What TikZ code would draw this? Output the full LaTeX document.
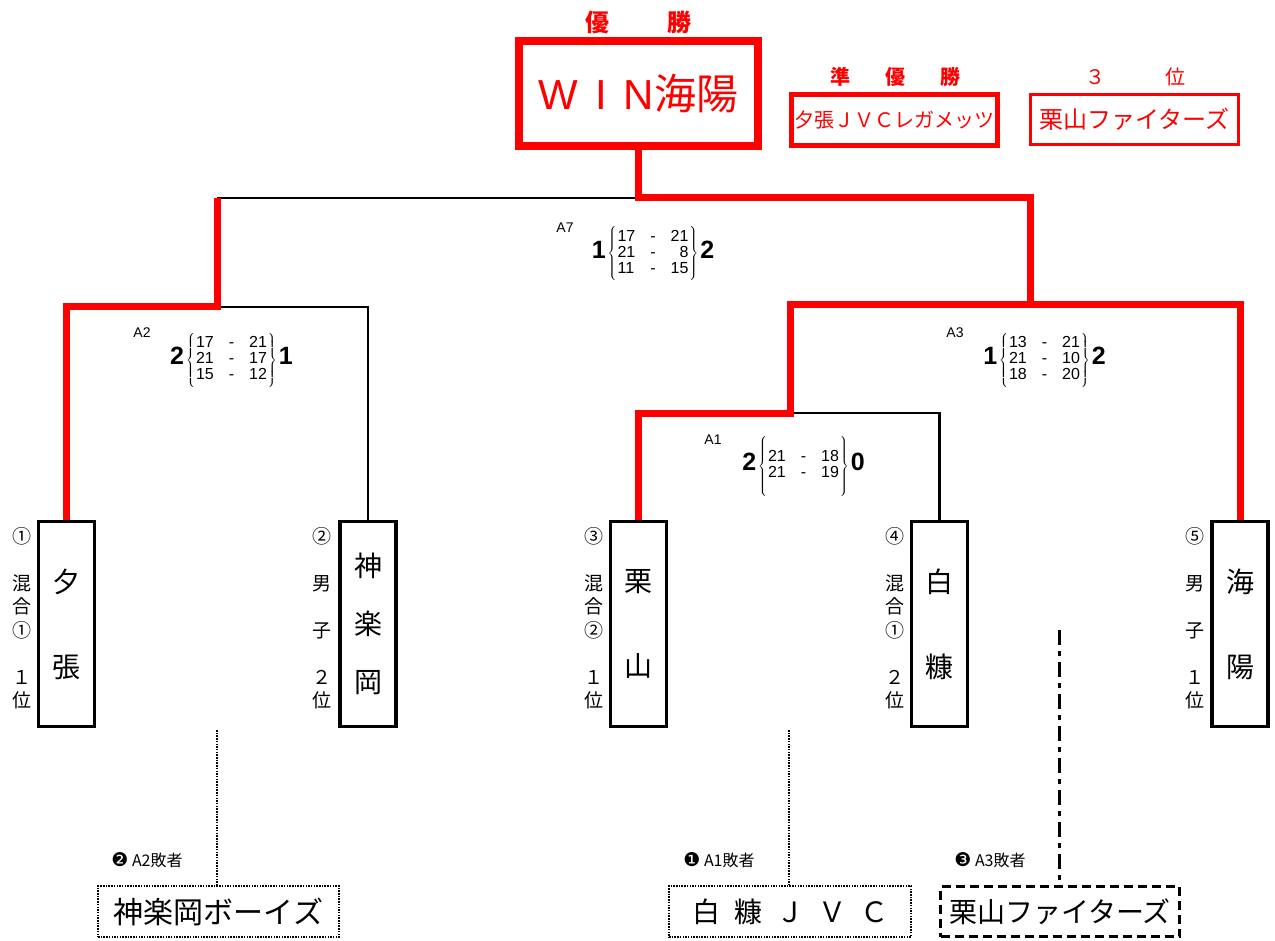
\documentclass[tikz,border=0pt]{standalone}
\usepackage{fontspec}
\setmainfont{Noto Sans CJK JP}
\newfontfamily\scorefont{Liberation Sans}
\newfontfamily\dingfont{DejaVu Sans}
\usetikzlibrary{positioning, backgrounds, calc}
\definecolor{medalred}{RGB}{255, 0, 0}

% set scores: winner sets, game rows, loser sets, brace height
\newcommand{\gamescore}[4]{%
  {\bfseries\fontsize{25}{25}\selectfont #1}\hspace{2pt}%
  $\left\{\vcenter{\hbox{\rule{0pt}{#4}}}\begin{tabular}{@{\hspace{1pt}}l@{\hspace{15pt}}c@{\hspace{15pt}}r@{\hspace{1pt}}}#2\end{tabular}\right\}$%
  \hspace{2pt}{\bfseries\fontsize{25}{25}\selectfont #3}}

\begin{document}
\begin{tikzpicture}[
        x=1pt, y=-1pt,
        team/.style={rectangle, draw=black, fill=white, line width=3.5pt, minimum width=56pt, minimum height=205pt, inner sep=0pt, align=center, font=\fontsize{28}{42.5}\selectfont},
        side/.style={inner sep=0pt, align=center, font=\fontsize{19}{23.5}\selectfont},
        medal/.style={rectangle, draw=medalred, fill=white, text=medalred, inner sep=0pt},
        medaltitle/.style={inner sep=0pt, text=medalred, font=\fontsize{20}{20}\selectfont},
        score/.style={inner sep=0pt, font=\scorefont\fontsize{16}{16}\selectfont},
        game/.style={inner sep=0pt, font=\scorefont\fontsize{14}{14}\selectfont},
        loser/.style={inner sep=0pt, font=\fontsize{16}{16}\selectfont},
        winline/.style={draw=medalred, line width=7pt},
        plainline/.style={draw=black, line width=2.5pt},
        dotline/.style={draw=black, line width=2.5pt, dash pattern=on 1.5pt off 1.2pt},
        dashdotline/.style={draw=black, line width=3pt, dash pattern=on 15pt off 6pt on 5pt off 6pt}
    ]
        \useasboundingbox (0,0) rectangle (1275,941);

        % medals
        \node[medaltitle, font=\bfseries\fontsize{24}{24}\selectfont] (wintitle) at (638.5,22) {優\hspace{59pt}勝};
        \node[medal, line width=8pt, minimum width=239pt, minimum height=105pt, font=\fontsize{42}{42}\selectfont] (winner) at (638.5,93.5) {{\scorefont W\hspace{17pt}I\hspace{17pt}N}海陽};
        \node[medaltitle, font=\bfseries\fontsize{20}{20}\selectfont] (runtitle) at (895,77) {準\hspace{35pt}優\hspace{35pt}勝};
        \node[medal, line width=5pt, minimum width=206pt, minimum height=51pt, font=\fontsize{20}{20}\selectfont] (runner) at (894.5,120) {夕張ＪＶＣレガメッツ};
        \node[medaltitle] (thirdtitle) at (1135,77) {３\hspace{60pt}位};
        \node[medal, line width=3pt, minimum width=208pt, minimum height=50pt, font=\fontsize{24}{24}\selectfont] (third) at (1134.5,119.5) {栗山ファイターズ};

        % teams
        \node[team] (yubari) at (66.5,624) {夕\\\mbox{}\\張};
        \node[team, font=\fontsize{28}{58}\selectfont] (kagura) at (368,624) {神\\楽\\岡};
        \node[team] (kuri) at (638.5,624) {栗\\\mbox{}\\山};
        \node[team] (shira) at (939.5,624) {白\\\mbox{}\\糠};
        \node[team] (kaiyo) at (1240,624) {海\\\mbox{}\\陽};

        \node[side] (yubariside) at (22,618) {①\\\mbox{}\\混\\合\\①\\\mbox{}\\１\\位};
        \node[side] (kagurasode) at (322,618) {②\\\mbox{}\\男\\\mbox{}\\子\\\mbox{}\\２\\位};
        \node[side] (kuriside) at (594,618) {③\\\mbox{}\\混\\合\\②\\\mbox{}\\１\\位};
        \node[side] (shiraside) at (895,618) {④\\\mbox{}\\混\\合\\①\\\mbox{}\\２\\位};
        \node[side] (kaiyoside) at (1195,618) {⑤\\\mbox{}\\男\\\mbox{}\\子\\\mbox{}\\１\\位};

        % scores
        \node[game] (g7) at (565,228) {A7};
        \node[score] (s7) at (653,254) {\gamescore{1}{17 & - & 21\\ 21 & - & 8\\ 11 & - & 15}{2}{54pt}};
        \node[game] (g2) at (142,333) {A2};
        \node[score] (s2) at (231.5,360) {\gamescore{2}{17 & - & 21\\ 21 & - & 17\\ 15 & - & 12}{1}{54pt}};
        \node[game] (g3) at (955,333) {A3};
        \node[score] (s3) at (1044.5,360) {\gamescore{1}{13 & - & 21\\ 21 & - & 10\\ 18 & - & 20}{2}{54pt}};
        \node[game] (g1) at (713,440) {A1};
        \node[score] (s1) at (803.5,466) {\gamescore{2}{21 & - & 18\\ 21 & - & 19}{0}{60pt}};

        % losers
        \node[rectangle, dotline, minimum width=241pt, minimum height=51pt, inner sep=0pt, font=\fontsize{30}{30}\selectfont] (kagurab) at (218.5,911.5) {神楽岡ボーイズ};
        \node[loser] (l2) at (147,860) {{\dingfont\fontsize{19}{19}\selectfont ❷}\ A2敗者};
        \node[rectangle, dotline, minimum width=242pt, minimum height=51pt, inner sep=0pt, font=\fontsize{28}{28}\selectfont] (shirab) at (790,911.5) {白\hspace{0.5em}糠\hspace{0.5em}Ｊ\hspace{0.5em}Ｖ\hspace{0.5em}Ｃ};
        \node[loser] (l1) at (719,860) {{\dingfont\fontsize{19}{19}\selectfont ❶}\ A1敗者};
        \node[rectangle, draw=black, line width=3pt, dash pattern=on 9pt off 5pt, minimum width=239pt, minimum height=50pt, inner sep=0pt, font=\fontsize{28}{28}\selectfont] (kurib) at (1060,911.5) {栗山ファイターズ};
        \node[loser] (l3) at (990,860) {{\dingfont\fontsize{19}{19}\selectfont ❸}\ A3敗者};

        \coordinate (a7) at (638.5,198);
        \coordinate (a7l) at (217,198);
        \coordinate (a2) at (217,307);
        \coordinate (a3) at (1030,305);
        \coordinate (a1) at (790,413);
        \coordinate (drop2) at (217,730);
        \coordinate (drop1) at (789,730);
        \coordinate (drop3) at (1059,630);

        \begin{scope}[on background layer]
            \draw[plainline] (a7l) -- (a7);
            \draw[plainline] (a2) -| (kagura.north);
            \draw[plainline] (a1) -| (shira.north);
            \draw[winline] (yubari.north) |- (a2) -- (a7l);
            \draw[winline] (winner.south) -- (a7) -| (a3) -| (kaiyo.north);
            \draw[winline] (a3) -| (a1) -| (kuri.north);
            \draw[dotline] (drop2) -- (drop2 |- kagurab.north);
            \draw[dotline] (drop1) -- (drop1 |- shirab.north);
            \draw[dashdotline] (drop3) -- (drop3 |- kurib.north);
        \end{scope}
    \end{tikzpicture}
\end{document}
